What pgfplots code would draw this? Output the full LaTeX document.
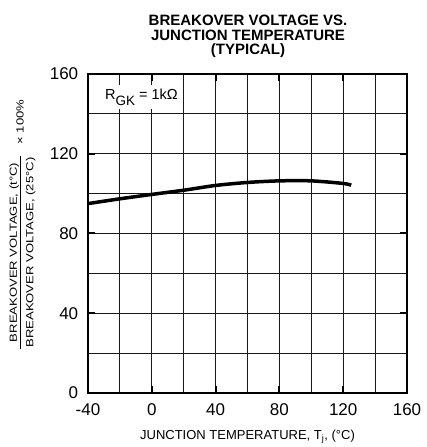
\documentclass[border=0pt]{standalone}
\usepackage{fontspec}
\setmainfont{Liberation Sans}
\newfontfamily\ylabfont[FakeStretch=1.27]{Liberation Sans}
\usepackage{graphicx}
\usepackage{pgfplots}
\pgfplotsset{compat=1.18}
\begin{document}
\begin{tikzpicture}
\useasboundingbox (-88pt,-54pt) rectangle (339pt,393pt);
\begin{axis}[
  at={(0,0)}, anchor=south west,
  width=319pt, height=319pt, scale only axis,
  xmin=-40, xmax=160, ymin=0, ymax=160,
  xtick={-40,0,...,160}, ytick={0,40,...,160},
  minor xtick={-20,0,...,140}, minor ytick={20,40,...,140},
  grid=minor,
  minor grid style={black!90, line width=0.8pt},
  tick align=inside,
  major tick length=7pt,
  minor tick length=0pt,
  major tick style={black, line width=2pt},
  axis line style={line width=2.5pt},
  /pgf/number format/assume math mode=true,
  ticklabel style={font=\fontsize{17}{17}\selectfont},
  xticklabel style={yshift=-7pt},
  yticklabel style={xshift=-6.3pt},
  xlabel={JUNCTION TEMPERATURE, T\textsubscript{j}, (°C)},
  xlabel style={font=\fontsize{13}{13}\selectfont, at={(axis description cs:0.5,0)}, anchor=base, yshift=-46pt},
]
\addplot[black, line width=3.5pt, smooth] coordinates {
  (-40,95.0) (-20,97.4) (0,99.6) (20,101.7) (40,104.1) (60,105.6)
  (80,106.4) (100,106.4) (120,105.1) (125,104.2)
};
\node[fill=white, inner xsep=3pt, inner ysep=4pt, anchor=base, font=\fontsize{14.5}{14.5}\selectfont] at (axis cs:-6.5,147.2) {R\raisebox{-5.5pt}{\fontsize{13.5}{13.5}\selectfont GK} = 1kΩ};
\end{axis}
\begin{scope}[font=\bfseries\fontsize{15}{15}\selectfont]
\node[anchor=base, inner sep=0pt] at (160pt,367pt) {BREAKOVER VOLTAGE VS.};
\node[anchor=base, inner sep=0pt] at (160pt,352.3pt) {JUNCTION TEMPERATURE};
\node[anchor=base, inner sep=0pt] at (160pt,338pt) {(TYPICAL)};
\end{scope}
\begin{scope}[font=\ylabfont\fontsize{10.3}{10.3}\selectfont]
\node[inner sep=0pt] at (-73.9pt,140.5pt) {\rotatebox{90}{BREAKOVER VOLTAGE, (t°C)}};
\node[inner sep=0pt] at (-57.2pt,140.5pt) {\rotatebox{90}{BREAKOVER VOLTAGE, (25°C)}};
\draw[line width=0.6pt] (-67.3pt,44pt) -- (-67.3pt,237pt);
\node[inner sep=0pt] at (-68pt,271pt) {\rotatebox{90}{× 100\%}};
\end{scope}
\end{tikzpicture}
\end{document}
